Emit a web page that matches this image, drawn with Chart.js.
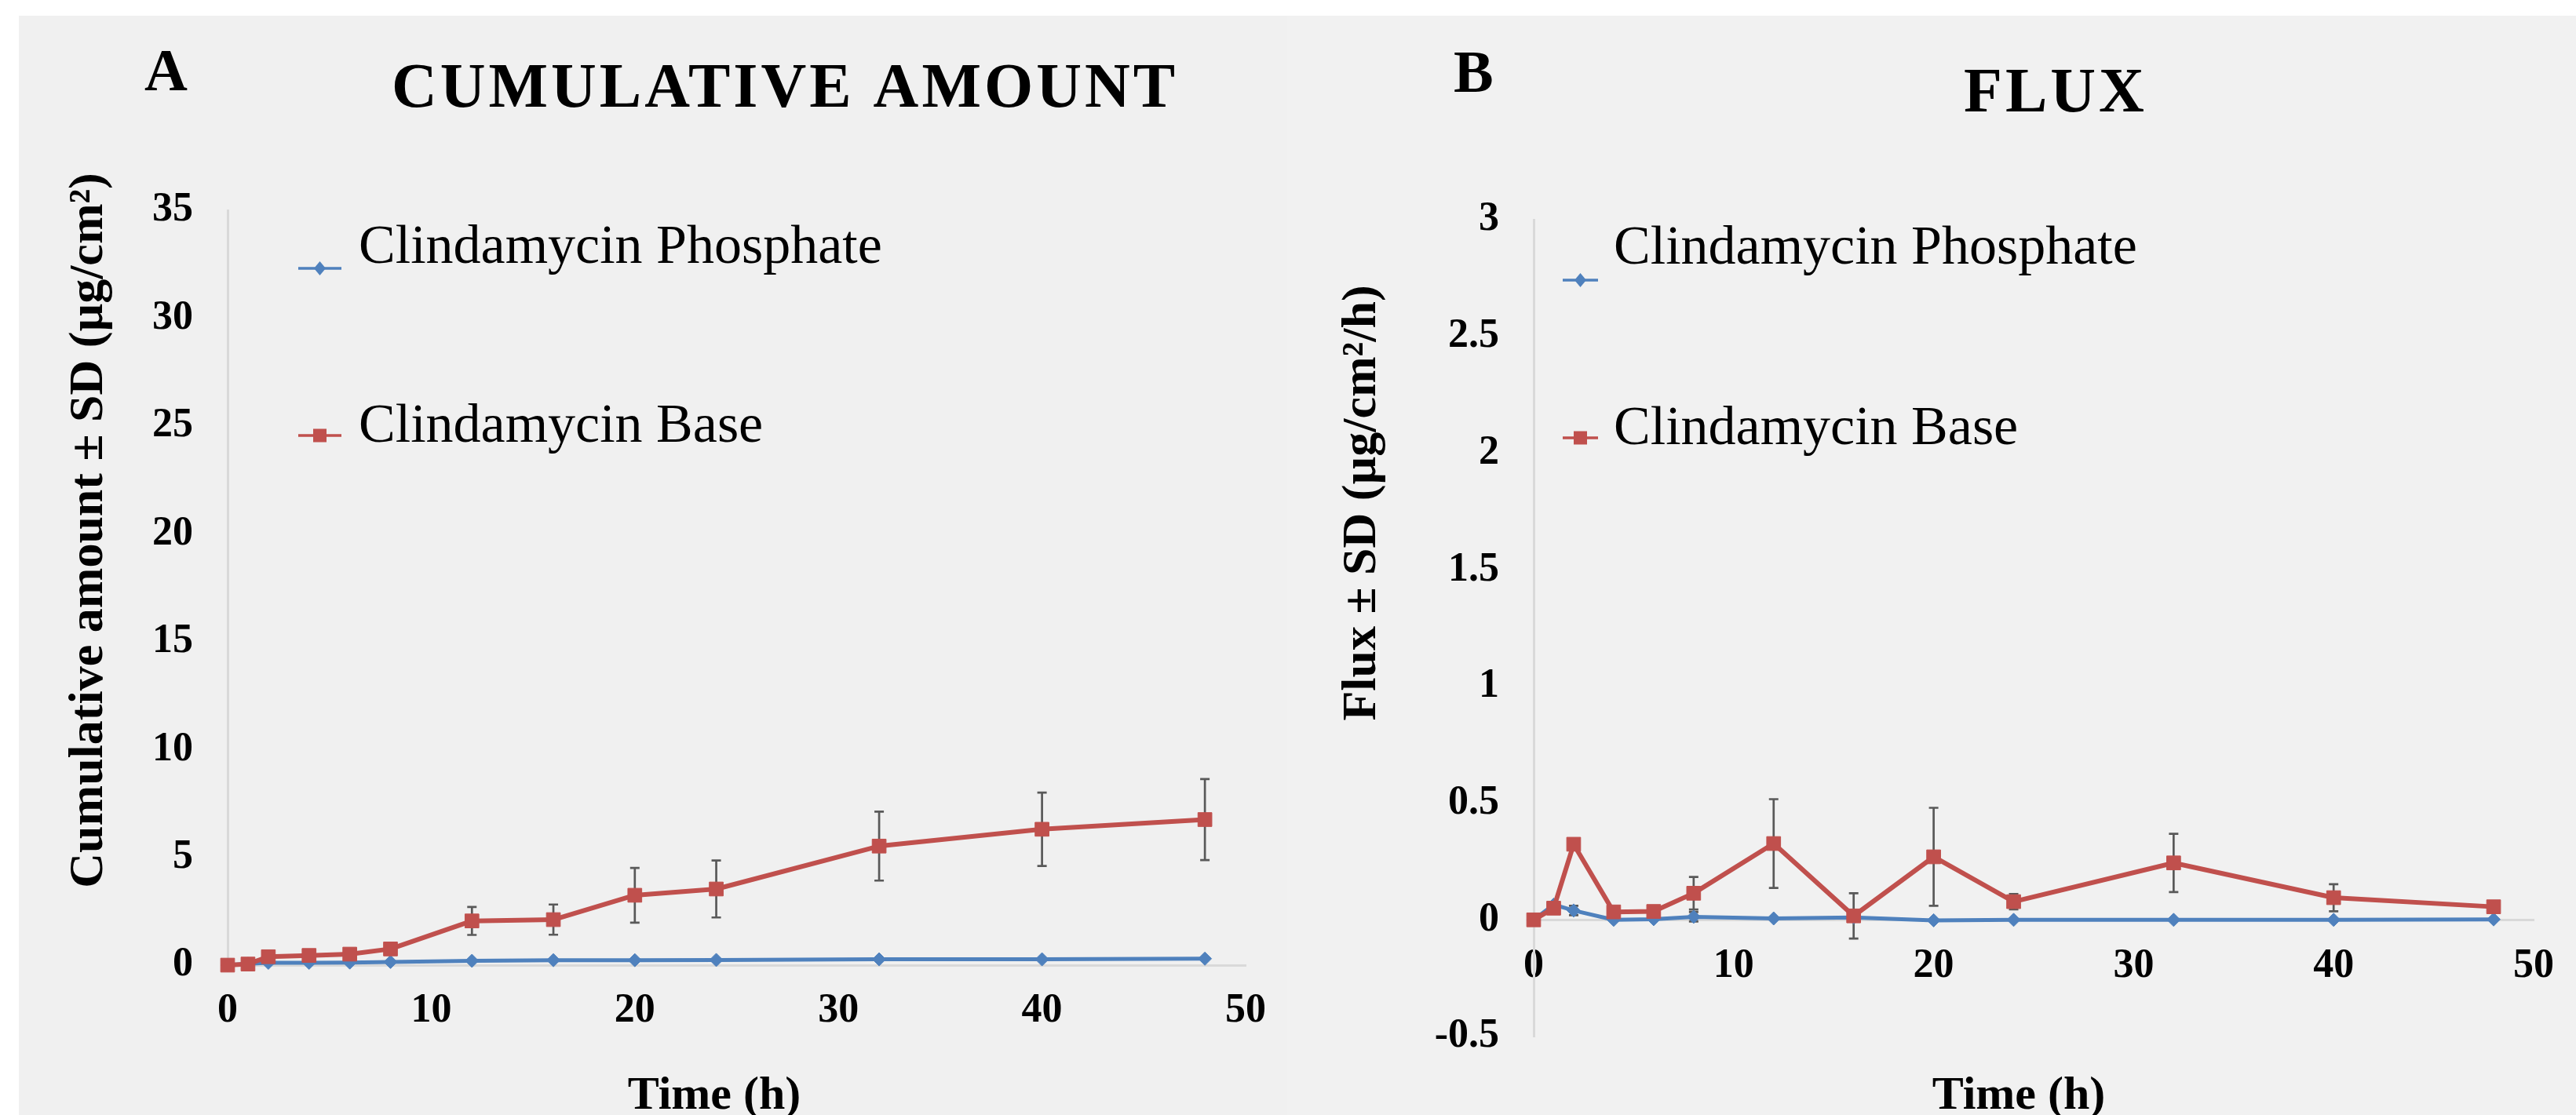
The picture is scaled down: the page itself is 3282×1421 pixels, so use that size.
<!DOCTYPE html>
<html lang="en">
<head>
<meta charset="UTF-8">
<title>Cumulative amount and flux</title>
<script src="https://cdn.jsdelivr.net/npm/chart.js"></script>
<style>
  html, body { margin: 0; padding: 0; background: #fff; }
  #wrap { position: relative; width: 3282px; height: 1421px; overflow: hidden; }
  canvas { position: absolute; top: 20px; }
  #cumulative { left: 24px; background: #f0f0f0; }
  #flux { left: 1640px; background: #f1f1f1; }
</style>
</head>
<body>
<div id="wrap">
  <canvas id="cumulative" width="1616" height="1401"></canvas>
  <canvas id="flux" width="1642" height="1401"></canvas>
</div>

<script>
  // sampling times (h)
  const timeH = [0, 1, 2, 4, 6, 8, 12, 16, 20, 24, 32, 40, 48];

  // panel A: cumulative amount (µg/cm²)
  const cumPhosphate   = [0, 0.06, 0.11, 0.11, 0.12, 0.15, 0.20, 0.23, 0.23, 0.24, 0.27, 0.27, 0.30];
  const cumPhosphateSd = [0, 0, 0, 0, 0, 0, 0, 0, 0, 0, 0, 0, 0];
  const cumBase        = [0, 0.05, 0.39, 0.45, 0.51, 0.75, 2.05, 2.11, 3.24, 3.53, 5.52, 6.30, 6.75];
  const cumBaseSd      = [0, 0, 0, 0, 0, 0, 0.65, 0.70, 1.27, 1.32, 1.60, 1.70, 1.88];

  // panel B: flux (µg/cm²/h)
  const fluxPhosphate   = [0, 0.065, 0.04, 0, 0.003, 0.013, 0.006, 0.01, -0.002, 0, 0, 0, 0.002];
  const fluxPhosphateSd = [0, 0.01, 0.02, 0, 0, 0.02, 0, 0, 0, 0, 0, 0, 0];
  const fluxBase        = [0, 0.05, 0.324, 0.034, 0.036, 0.114, 0.327, 0.017, 0.27, 0.078, 0.244, 0.095, 0.056];
  const fluxBaseSd      = [0, 0, 0, 0, 0, 0.07, 0.19, 0.097, 0.21, 0.033, 0.125, 0.058, 0];

  const seriesNames = ['Clindamycin Phosphate', 'Clindamycin Base'];
  const blue = '#4f81bd';
  const red = '#c0504d';
  const serif = "'Liberation Serif', 'Times New Roman', serif";

  Chart.defaults.font.family = serif;

  const tickFont = { family: serif, size: 52, weight: 'bold' };

  function lineDataset(label, values, sd, color, style, radius, width, order) {
    return {
      label: label,
      sd: sd,
      order: order,
      data: timeH.map((t, i) => ({ x: t, y: values[i] })),
      borderColor: color,
      backgroundColor: color,
      borderWidth: width,
      borderJoinStyle: 'round',
      pointStyle: style,
      pointRadius: radius,
      pointBorderWidth: 1,
      pointBorderColor: color,
      pointBackgroundColor: color,
      tension: 0,
      clip: false
    };
  }

  // SD whiskers, drawn under the markers
  const errorBars = {
    id: 'errorBars',
    beforeDatasetsDraw(chart) {
      const ctx = chart.ctx;
      const yScale = chart.scales.y;
      ctx.save();
      ctx.strokeStyle = '#595959';
      ctx.lineWidth = 2.7;
      chart.data.datasets.forEach((ds, i) => {
        const meta = chart.getDatasetMeta(i);
        meta.data.forEach((pt, j) => {
          const sd = ds.sd[j];
          if (!sd) return;
          const v = ds.data[j].y;
          const top = yScale.getPixelForValue(v + sd);
          const bot = yScale.getPixelForValue(v - sd);
          ctx.beginPath();
          ctx.moveTo(pt.x, top); ctx.lineTo(pt.x, bot);
          ctx.moveTo(pt.x - 6, top); ctx.lineTo(pt.x + 6, top);
          ctx.moveTo(pt.x - 6, bot); ctx.lineTo(pt.x + 6, bot);
          ctx.stroke();
        });
      });
      ctx.restore();
    }
  };

  // free text: panel letter, titles, axis titles
  function textPlugin(items) {
    return {
      id: 'panelText',
      afterDraw(chart) {
        const ctx = chart.ctx;
        items.forEach(it => {
          ctx.save();
          ctx.font = it.font;
          ctx.fillStyle = '#000';
          ctx.textAlign = it.align || 'left';
          ctx.textBaseline = 'alphabetic';
          if (it.spacing) ctx.letterSpacing = it.spacing;
          ctx.translate(it.x, it.y);
          if (it.rotate) ctx.rotate(it.rotate);
          ctx.fillText(it.text, 0, 0);
          ctx.restore();
        });
      }
    };
  }

  // Excel-like legend stacked inside the plot
  function legendPlugin(spec) {
    return {
      id: 'sideLegend',
      afterDraw(chart) {
        const ctx = chart.ctx;
        const order = [1, 0]; // phosphate first, base second
        order.forEach((dsIndex, row) => {
          const ds = chart.data.datasets[dsIndex];
          const y = spec.lineY[row];
          const mid = (spec.x1 + spec.x2) / 2;
          ctx.save();
          ctx.strokeStyle = ds.borderColor;
          ctx.fillStyle = ds.borderColor;
          ctx.lineWidth = 3.5;
          ctx.beginPath();
          ctx.moveTo(spec.x1, y);
          ctx.lineTo(spec.x2, y);
          ctx.stroke();
          ctx.beginPath();
          if (ds.pointStyle === 'rect') {
            ctx.rect(mid - 8.5, y - 8.5, 17, 17);
          } else {
            ctx.moveTo(mid, y - 9);
            ctx.lineTo(mid + 7.5, y);
            ctx.lineTo(mid, y + 9);
            ctx.lineTo(mid - 7.5, y);
            ctx.closePath();
          }
          ctx.fill();
          ctx.fillStyle = '#000';
          ctx.font = '70px ' + serif;
          ctx.textBaseline = 'alphabetic';
          ctx.fillText(ds.label, spec.textX, spec.textY[row]);
          ctx.restore();
        });
      }
    };
  }

  function axisStyle(extra) {
    return Object.assign({
      type: 'linear',
      grid: { display: false, drawTicks: false },
      border: { display: true, color: '#d9d9d9', width: 3 },
      ticks: { color: '#000', font: tickFont }
    }, extra);
  }

  // plain numbers, no trailing ".0"
  const plainTick = v => String(Math.round(v * 100) / 100);

  // ---- panel A ----
  new Chart(document.getElementById('cumulative'), {
    type: 'line',
    data: {
      datasets: [
        lineDataset(seriesNames[1], cumBase, cumBaseSd, red, 'rect', 12.5, 6, 0),
        lineDataset(seriesNames[0], cumPhosphate, cumPhosphateSd, blue, 'rectRot', 8.5, 5, 1)
      ]
    },
    options: {
      responsive: false,
      animation: false,
      layout: { padding: { top: 248, right: 47, left: 0, bottom: 0 } },
      plugins: { legend: { display: false }, tooltip: { enabled: false } },
      scales: {
        x: axisStyle({
          min: 0, max: 50,
          ticks: { stepSize: 10, padding: 27, color: '#000', font: tickFont, callback: plainTick },
          afterFit: s => { s.height = 191; }
        }),
        y: axisStyle({
          min: 0, max: 35,
          ticks: { stepSize: 5, padding: 44, color: '#000', font: tickFont, callback: plainTick },
          afterFit: s => { s.width = 266; }
        })
      }
    },
    plugins: [
      errorBars,
      legendPlugin({ x1: 356, x2: 411, lineY: [322, 535], textX: 433, textY: [315, 543] }),
      textPlugin([
        { text: 'A', x: 160, y: 95, font: 'bold 76px ' + serif },
        { text: 'CUMULATIVE AMOUNT', x: 976, y: 116, align: 'center', font: 'bold 80px ' + serif, spacing: '4px' },
        { text: 'Cumulative amount ± SD (µg/cm²)', x: 106, y: 656, align: 'center', rotate: -Math.PI / 2, font: 'bold 62px ' + serif },
        { text: 'Time (h)', x: 886, y: 1393, align: 'center', font: 'bold 60px ' + serif }
      ])
    ]
  });

  // ---- panel B ----
  new Chart(document.getElementById('flux'), {
    type: 'line',
    data: {
      datasets: [
        lineDataset(seriesNames[1], fluxBase, fluxBaseSd, red, 'rect', 12.5, 6, 0),
        lineDataset(seriesNames[0], fluxPhosphate, fluxPhosphateSd, blue, 'rectRot', 8.5, 5, 1)
      ]
    },
    options: {
      responsive: false,
      animation: false,
      layout: { padding: { top: 260, right: 41, left: 0, bottom: 100 } },
      plugins: { legend: { display: false }, tooltip: { enabled: false } },
      scales: {
        x: axisStyle({
          min: 0, max: 50,
          position: { y: 0 },
          ticks: { stepSize: 10, padding: 28, color: '#000', font: tickFont, callback: plainTick }
        }),
        y: axisStyle({
          min: -0.5, max: 3,
          ticks: { stepSize: 0.5, padding: 44, color: '#000', font: tickFont, callback: plainTick },
          afterFit: s => { s.width = 314; }
        })
      }
    },
    plugins: [
      errorBars,
      legendPlugin({ x1: 351, x2: 396, lineY: [337, 538], textX: 416, textY: [316, 546] }),
      textPlugin([
        { text: 'B', x: 212, y: 97, font: 'bold 76px ' + serif },
        { text: 'FLUX', x: 979, y: 122, align: 'center', font: 'bold 80px ' + serif, spacing: '4px' },
        { text: 'Flux ± SD (µg/cm²/h)', x: 112, y: 621, align: 'center', rotate: -Math.PI / 2, font: 'bold 62px ' + serif },
        { text: 'Time (h)', x: 932, y: 1393, align: 'center', font: 'bold 60px ' + serif }
      ])
    ]
  });
</script>
</body>
</html>
